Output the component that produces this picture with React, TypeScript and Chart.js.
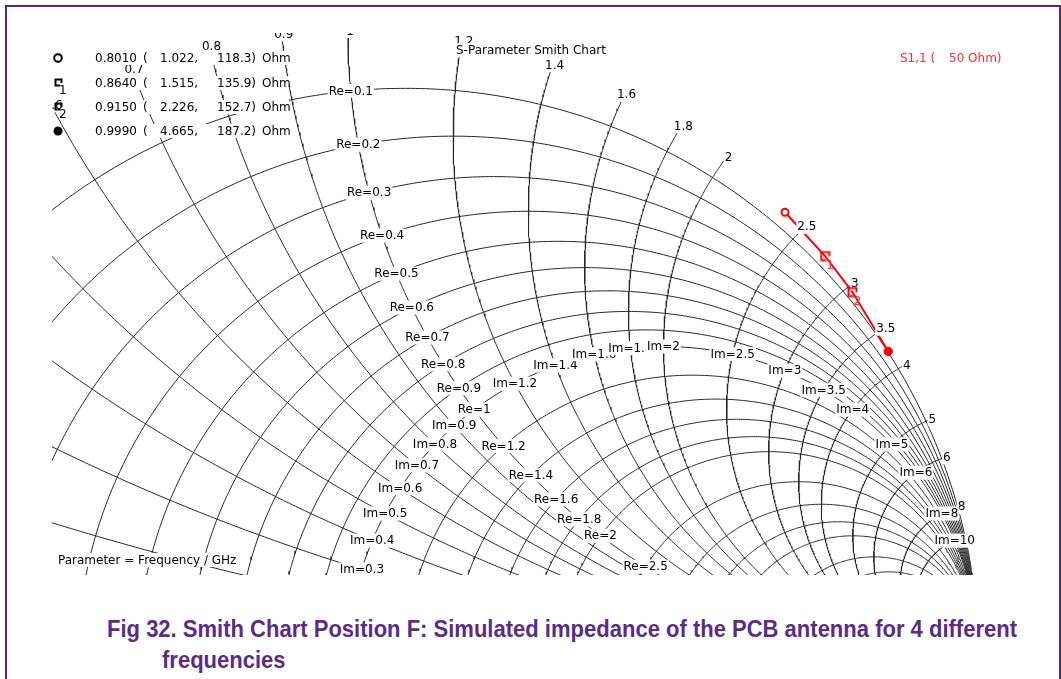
import React, { useEffect, useLayoutEffect, useRef } from "react";
import { Chart, registerables } from "chart.js";

Chart.register(...registerables);

// ---- data ----
const Z0 = 50;
const FREQ_TEXT = ["0.8010", "0.8640", "0.9150", "0.9990"];
const RES_OHM = [1.022, 1.515, 2.226, 4.665];
const REACT_OHM = [118.3, 135.9, 152.7, 187.2];
const RES_TEXT = ["1.022,", "1.515,", "2.226,", "4.665,"];
const REACT_TEXT = ["118.3)", "135.9)", "152.7)", "187.2)"];

const RE_GRID = [0.1, 0.2, 0.3, 0.4, 0.5, 0.6, 0.7, 0.8, 0.9, 1, 1.2, 1.4, 1.6, 1.8, 2, 2.5, 3, 3.5, 4, 5, 6, 8, 10, 15, 20, 50];
const IM_GRID = [0.1, 0.2, 0.3, 0.4, 0.5, 0.6, 0.7, 0.8, 0.9, 1, 1.2, 1.4, 1.6, 1.8, 2, 2.5, 3, 3.5, 4, 5, 6, 8, 10, 15, 20, 50];
const RE_LABELS = [0.1, 0.2, 0.3, 0.4, 0.5, 0.6, 0.7, 0.8, 0.9, 1, 1.2, 1.4, 1.6, 1.8, 2, 2.5, 3, 3.5, 4, 5];
const IM_LABELS = [0.1, 0.2, 0.3, 0.4, 0.5, 0.6, 0.7, 0.8, 0.9, 1, 1.2, 1.4, 1.6, 1.8, 2, 2.5, 3, 3.5, 4, 5, 6, 8, 10];
const RIM_LABELS = [0.5, 0.6, 0.7, 0.8, 0.9, 1, 1.2, 1.4, 1.6, 1.8, 2, 2.5, 3, 3.5, 4, 5, 6, 8];

// visible window of the reflection-coefficient plane
const GX_MIN = -0.4691;
const GX_MAX = 1.0571;
const GY_MIN = 0.1379;
const GY_MAX = 0.9968;

const FONT = '12px "DejaVu Sans", Verdana, sans-serif';
const GRID_COLOR = "#262626";
const TRACE_COLOR = "#ff0000";
const CAPTION_COLOR = "#5a2c88";

function gamma(r: number, x: number) {
  const d = (r + 1) * (r + 1) + x * x;
  return { x: (r * r + x * x - 1) / d, y: (2 * x) / d };
}

function resistanceCircle(r: number) {
  const c = r / (1 + r);
  const rad = 1 / (1 + r);
  const pts: { x: number; y: number }[] = [];
  const n = 360;
  for (let i = 0; i <= n; i++) {
    const t = (Math.PI * i) / n;
    pts.push({ x: c + rad * Math.cos(t), y: rad * Math.sin(t) });
  }
  return pts;
}

function reactanceArc(x: number) {
  const rad = 1 / x;
  let p0 = Math.atan2((x * x - 1) / x, -2);
  if (p0 < 0) p0 += 2 * Math.PI;
  const p1 = 1.5 * Math.PI;
  const pts: { x: number; y: number }[] = [];
  const n = 360;
  for (let i = 0; i <= n; i++) {
    const p = p0 + ((p1 - p0) * i) / n;
    pts.push({ x: 1 + rad * Math.cos(p), y: rad + rad * Math.sin(p) });
  }
  return pts;
}

function bracketCanvas(color: string, size: number, lw: number) {
  const c = document.createElement("canvas");
  c.width = size + 3;
  c.height = size + 3;
  const g = c.getContext("2d")!;
  g.strokeStyle = color;
  g.lineWidth = lw;
  g.lineCap = "square";
  const o = 1.5;
  g.beginPath();
  g.moveTo(o, o);
  g.lineTo(o + size, o);
  g.moveTo(o + size, o);
  g.lineTo(o + size, o + size * 0.4);
  g.moveTo(o, o);
  g.lineTo(o, o + size);
  g.lineTo(o + size * 0.6, o + size);
  g.stroke();
  return c;
}

export default function App() {
  const canvasRef = useRef<HTMLCanvasElement>(null);
  const line1Ref = useRef<HTMLSpanElement>(null);
  const line2Ref = useRef<HTMLSpanElement>(null);

  useLayoutEffect(() => {
    document.body.style.margin = "0";
    const l1 = line1Ref.current;
    const l2 = line2Ref.current;
    if (l1 && l2) {
      const w = l1.getBoundingClientRect().width;
      const s = w > 0 ? 910 / w : 1;
      l1.style.transform = `scaleX(${s})`;
      l2.style.transform = `scaleX(${s})`;
    }
  }, []);

  useEffect(() => {
    const canvas = canvasRef.current!;
    const points = RES_OHM.map((r, i) => gamma(r / Z0, REACT_OHM[i] / Z0));

    const datasets: any[] = [];
    RE_GRID.forEach((r) =>
      datasets.push({
        data: resistanceCircle(r),
        showLine: true,
        borderColor: GRID_COLOR,
        borderWidth: 1,
        pointRadius: 0,
        fill: false,
        clip: 0,
        order: 3,
      })
    );
    IM_GRID.forEach((x) =>
      datasets.push({
        data: reactanceArc(x),
        showLine: true,
        borderColor: GRID_COLOR,
        borderWidth: 1,
        pointRadius: 0,
        fill: false,
        clip: 0,
        order: 3,
      })
    );
    const TRACE_INDEX = datasets.length;
    datasets.push({
      data: points,
      showLine: true,
      borderColor: TRACE_COLOR,
      borderWidth: 2,
      pointRadius: 0,
      fill: false,
      clip: 0,
      order: 2,
    });
    const redBracket = bracketCanvas(TRACE_COLOR, 8, 2);
    const blackBracket = bracketCanvas("#000", 6, 2);
    datasets.push({
      data: points,
      showLine: false,
      pointStyle: ["circle", redBracket, redBracket, "circle"],
      pointRadius: [3.5, 5, 5, 4.2],
      pointBorderWidth: [2, 0, 0, 1],
      pointBackgroundColor: ["#ffffff", TRACE_COLOR, TRACE_COLOR, TRACE_COLOR],
      pointBorderColor: TRACE_COLOR,
      clip: 0,
      order: 1,
    });

    const labelPlugin = {
      id: "smithLabels",
      afterDatasetDraw(chart: any, args: any) {
        if (args.index !== TRACE_INDEX) return;
        const ctx: CanvasRenderingContext2D = chart.ctx;
        const a = chart.chartArea;
        const sx = chart.scales.x;
        const sy = chart.scales.y;
        const P = (g: { x: number; y: number }) => [sx.getPixelForValue(g.x), sy.getPixelForValue(g.y)];
        ctx.save();
        ctx.beginPath();
        ctx.rect(a.left, a.top, a.right - a.left, a.bottom - a.top);
        ctx.clip();
        ctx.font = FONT;
        ctx.textAlign = "center";
        ctx.textBaseline = "middle";
        const box = (txt: string, px: number, py: number) => {
          const w = ctx.measureText(txt).width;
          ctx.fillStyle = "#ffffff";
          ctx.fillRect(px - w / 2 - 1, py - 7, w + 2, 14);
          ctx.fillStyle = "#000000";
          ctx.fillText(txt, px, py + 0.5);
        };
        RIM_LABELS.forEach((v) => {
          const [px, py] = P(gamma(0, v));
          box(String(v), px + 2, py);
        });
        IM_LABELS.forEach((v) => {
          const [px, py] = P(gamma(1, v));
          box("Im=" + v, px, py);
        });
        RE_LABELS.forEach((v) => {
          const [px, py] = P(gamma(v, 1));
          box("Re=" + v, px, py);
        });
        ctx.restore();

        // title / legend texts
        ctx.save();
        ctx.font = FONT;
        ctx.textBaseline = "middle";
        ctx.textAlign = "left";
        const lbox = (txt: string, px: number, py: number, color: string) => {
          const w = ctx.measureText(txt).width;
          ctx.fillStyle = "#ffffff";
          ctx.fillRect(px - 1, py - 7, w + 2, 14);
          ctx.fillStyle = color;
          ctx.fillText(txt, px, py + 0.5);
        };
        lbox("S-Parameter Smith Chart", 456, 50, "#000");
        const rowsY = [58, 83, 107, 131];
        rowsY.forEach((y, i) => {
          ctx.fillStyle = "#ffffff";
          ctx.fillRect(92, y - 7, 197, 14);
          ctx.fillStyle = "#000";
          ctx.fillText(FREQ_TEXT[i], 95, y + 0.5);
          ctx.fillText("(", 143, y + 0.5);
          ctx.fillText(RES_TEXT[i], 160, y + 0.5);
          ctx.fillText(REACT_TEXT[i], 217, y + 0.5);
          ctx.fillText("Ohm", 262, y + 0.5);
        });
        // legend markers
        ctx.strokeStyle = "#000";
        ctx.fillStyle = "#000";
        ctx.lineWidth = 2;
        ctx.beginPath();
        ctx.arc(58, 58, 3.8, 0, Math.PI * 2);
        ctx.stroke();
        ctx.drawImage(blackBracket, 54, 78);
        ctx.drawImage(blackBracket, 54, 102);
        ctx.fillText("1", 59, 91);
        ctx.fillText("2", 59, 115);
        ctx.beginPath();
        ctx.arc(58, 131, 4.5, 0, Math.PI * 2);
        ctx.fill();
        // S11 header
        ctx.fillStyle = "#ff2a2a";
        ctx.fillText("S1,1 (", 900, 58.5);
        ctx.fillText("50 Ohm)", 949, 58.5);
        lbox("Parameter = Frequency / GHz", 58, 560, "#000");
        ctx.restore();
      },
      afterDatasetsDraw(chart: any) {
        const ctx: CanvasRenderingContext2D = chart.ctx;
        const sx = chart.scales.x;
        const sy = chart.scales.y;
        ctx.save();
        ctx.font = '13px "DejaVu Sans", Verdana, sans-serif';
        ctx.textAlign = "center";
        ctx.textBaseline = "middle";
        ctx.fillStyle = "#ff3030";
        [1, 2].forEach((i) => {
          const px = sx.getPixelForValue(points[i].x);
          const py = sy.getPixelForValue(points[i].y);
          ctx.fillText(String(i), px + 5, py + 10);
        });
        ctx.restore();
      },
    };

    const chart = new Chart(canvas, {
      type: "scatter",
      data: { datasets },
      options: {
        responsive: false,
        animation: false,
        devicePixelRatio: 1,
        events: [],
        layout: { padding: { left: 52, top: 33, right: 46, bottom: 15 } },
        plugins: { legend: { display: false }, tooltip: { enabled: false } },
        scales: {
          x: { type: "linear", min: GX_MIN, max: GX_MAX, display: false },
          y: { type: "linear", min: GY_MIN, max: GY_MAX, display: false },
        },
      },
      plugins: [labelPlugin],
    } as any);
    return () => chart.destroy();
  }, []);

  const capStyle: React.CSSProperties = {
    position: "absolute",
    whiteSpace: "nowrap",
    fontFamily: '"Liberation Sans Narrow", "Liberation Sans", Arial, sans-serif',
    fontWeight: "bold",
    fontSize: "24px",
    lineHeight: "24px",
    color: CAPTION_COLOR,
    transformOrigin: "0 0",
    display: "inline-block",
  };

  return (
    <div style={{ position: "relative", width: 1061, height: 679, overflow: "hidden", background: "#fff" }}>
      <div
        style={{
          position: "absolute",
          left: 5,
          top: 5,
          width: 1056,
          height: 720,
          boxSizing: "border-box",
          border: "2px solid #4e2a84",
        }}
      />
      <canvas ref={canvasRef} width={1061} height={590} style={{ position: "absolute", left: 0, top: 0 }} />
      <span ref={line1Ref} style={{ ...capStyle, left: 107, top: 617 }}>
        Fig 32. Smith Chart Position F: Simulated impedance of the PCB antenna for 4 different
      </span>
      <span ref={line2Ref} style={{ ...capStyle, left: 162, top: 648 }}>
        frequencies
      </span>
    </div>
  );
}
